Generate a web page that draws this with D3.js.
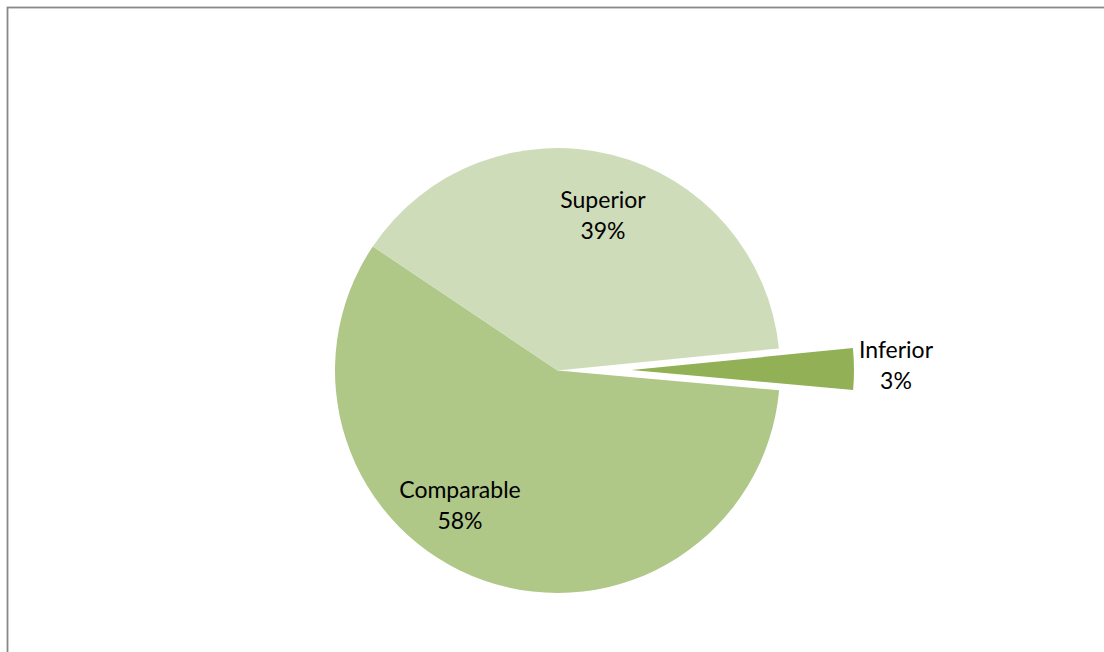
<!DOCTYPE html>
<html>
<head>
<meta charset="utf-8">
<script src="https://cdn.jsdelivr.net/npm/d3@7"></script>
<style>
  body { margin: 0; background: #fff; }
  text { font-family: Lato, "Open Sans", sans-serif; fill: #000; }
</style>
</head>
<body>
<svg id="pie-chart"></svg>
<script>
// Slice data, in drawing order (clockwise from the start angle)
const categories = ["Comparable", "Superior", "Inferior"];
const percents = [58, 39, 3];
const exploded = ["Inferior"];
const colors = ["#afc787", "#cfdcb9", "#92b157"];

const width = 1104, height = 652;
const cx = 557.5, cy = 370.5, radius = 222.5;
const explodeDist = 74;

const svg = d3.select("#pie-chart")
    .attr("width", width)
    .attr("height", height);

// Frame (only top and left edges show in the crop)
svg.append("rect")
    .attr("x", 7.5)
    .attr("y", 7.5)
    .attr("width", width + 20)
    .attr("height", height + 20)
    .attr("fill", "none")
    .attr("stroke", "#888")
    .attr("stroke-width", 1.8);

const data = categories.map((c, i) => ({ name: c, value: percents[i] }));

const color = d3.scaleOrdinal().domain(categories).range(colors);

// Comparable starts just past 3 o'clock
const start = 95.1 * Math.PI / 180;
const pie = d3.pie()
    .sort(null)
    .value(d => d.value)
    .startAngle(start)
    .endAngle(start + 2 * Math.PI);

const arc = d3.arc().innerRadius(0).outerRadius(radius);

const chart = svg.append("g")
    .attr("transform", `translate(${cx},${cy})`);

const arcs = pie(data);

function offset(d) {
    if (!exploded.includes(d.data.name)) return [0, 0];
    const mid = (d.startAngle + d.endAngle) / 2;
    return [Math.sin(mid) * explodeDist, -Math.cos(mid) * explodeDist];
}

chart.selectAll(".slice")
    .data(arcs)
    .enter()
    .append("path")
    .attr("class", "slice")
    .attr("transform", d => `translate(${offset(d)})`)
    .attr("d", arc)
    .attr("fill", d => color(d.data.name));

// Label positions (relative to centre)
const labelPos = {
    "Superior": [45.5, -162.5],
    "Comparable": [-97.5, 127.5],
    "Inferior": [338.5, -12.5]
};

const labels = chart.selectAll(".label")
    .data(arcs)
    .enter()
    .append("text")
    .attr("class", "label")
    .attr("text-anchor", "middle")
    .attr("font-size", 23)
    .attr("transform", d => `translate(${labelPos[d.data.name]})`);

labels.append("tspan")
    .attr("x", 0)
    .attr("y", 0)
    .text(d => d.data.name);

labels.append("tspan")
    .attr("x", 0)
    .attr("y", 31)
    .text(d => d.data.value + "%");
</script>
</body>
</html>
